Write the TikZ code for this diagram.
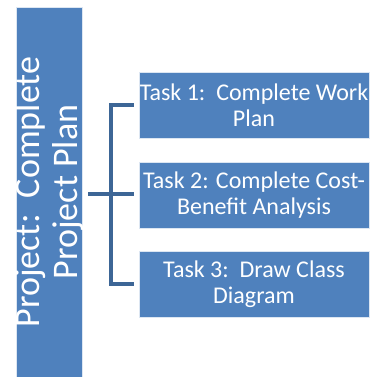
\documentclass[tikz,border=0pt]{standalone}
\usepackage{fontspec}
\setmainfont{Carlito}
\definecolor{boxblue}{HTML}{4F81BD}
\definecolor{linkblue}{HTML}{3D6696}
\begin{document}
\begin{tikzpicture}[x=1pt,y=1pt,
  bluebox/.style={draw=white!80!boxblue, line width=0.8pt, fill=boxblue, inner sep=0pt},
  taskbox/.style={bluebox, minimum width=230pt, minimum height=66pt},
  tasktext/.style={text=white, font=\fontsize{24}{26}\selectfont, align=center, inner sep=0pt},
  link/.style={draw=linkblue, line width=4pt, line join=miter}]
\useasboundingbox (0,0) rectangle (372,377);
\node[bluebox, minimum width=66pt, minimum height=370pt] (main) at (49,185) {};
\node[rotate=90, text=white, font=\fontsize{36}{38}\selectfont, align=center, inner sep=0pt] (maintext) at (main.center) {Project:\ \ Complete\\Project Plan};
\node[taskbox] (t1) at (254,272) {};
\node[tasktext] (t1text) at (t1.center) {Task 1:\ \ Complete Work\\Plan};
\node[taskbox] (t2) at (254,182) {};
\node[tasktext] (t2text) at (t2.center) {Task 2: Complete Cost-\\Benefit Analysis};
\node[taskbox] (t3) at (254,92.5) {};
\node[tasktext] (t3text) at (t3.center) {Task 3:\ \ Draw Class\\Diagram};
\coordinate (hub) at (111,183);
\draw[link] ([xshift=6pt]main.east |- hub) -- ([xshift=-5pt]t2.west |- hub);
\draw[link] ([xshift=-5pt]t1.west) -| (hub) |- ([xshift=-5pt]t3.west);
\end{tikzpicture}
\end{document}
